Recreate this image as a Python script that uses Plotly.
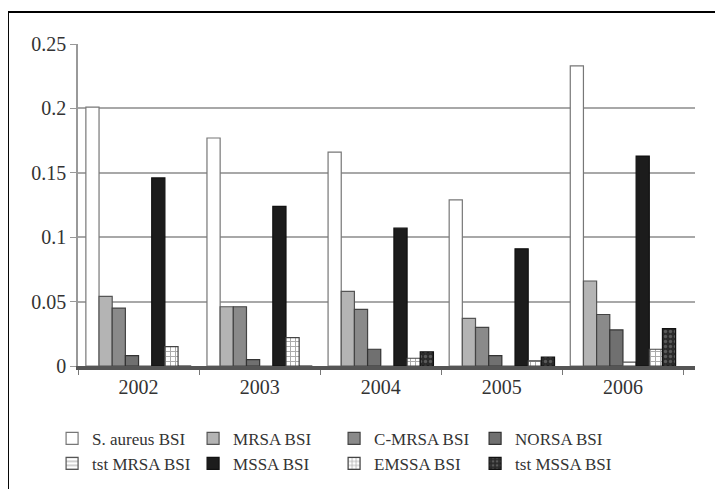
import plotly.graph_objects as go

years = ["2002", "2003", "2004", "2005", "2006"]
s_aureus = [0.201, 0.177, 0.166, 0.129, 0.233]
mrsa = [0.054, 0.046, 0.058, 0.037, 0.066]
c_mrsa = [0.045, 0.046, 0.044, 0.030, 0.040]
norsa = [0.008, 0.005, 0.013, 0.008, 0.028]
tst_mrsa = [0.0, 0.0, 0.0, 0.0, 0.003]
mssa = [0.146, 0.124, 0.107, 0.091, 0.163]
emssa = [0.015, 0.022, 0.006, 0.004, 0.013]
tst_mssa = [0.0, 0.0, 0.011, 0.007, 0.029]
y_ticks = [0, 0.05, 0.1, 0.15, 0.2, 0.25]
y_tick_labels = ["0", "0.05", "0.1", "0.15", "0.2", "0.25"]

series = [
    ("S. aureus BSI", s_aureus, "#ffffff", "#777777", "", None),
    ("MRSA BSI", mrsa, "#b4b4b4", "#555555", "", None),
    ("C-MRSA BSI", c_mrsa, "#8a8a8a", "#444444", "", None),
    ("NORSA BSI", norsa, "#707070", "#333333", "", None),
    ("tst MRSA BSI", tst_mrsa, "#ffffff", "#555555", "-", "#777777"),
    ("MSSA BSI", mssa, "#1c1c1c", "#111111", "", None),
    ("EMSSA BSI", emssa, "#ffffff", "#444444", "+", "#555555"),
    ("tst MSSA BSI", tst_mssa, "#2a2a2a", "#111111", ".", "#8a8a8a"),
]

fig = go.Figure()
for name, vals, fill, line, shape, fg in series:
    marker = dict(color=fill, line=dict(color=line, width=1.2))
    if shape:
        marker["pattern"] = dict(shape=shape, fgcolor=fg, bgcolor=fill, size=5, solidity=0.35)
    fig.add_trace(go.Bar(name=name, x=years, y=vals, marker=marker))

font_serif = "Liberation Serif, Times New Roman, serif"

fig.update_layout(
    width=723, height=489,
    margin=dict(l=70, r=36, t=36, b=131, autoexpand=False),
    paper_bgcolor="white", plot_bgcolor="white",
    barmode="group", bargap=0.13, bargroupgap=0.0,
    font=dict(family=font_serif, size=19, color="#333333"),
    showlegend=True,
    legend=dict(orientation="h", x=-0.042, xanchor="left", y=-0.17, yanchor="top",
                entrywidth=96, entrywidthmode="pixels", bgcolor="rgba(0,0,0,0)",
                font=dict(family=font_serif, size=17, color="#333333"),
                tracegroupgap=0, itemwidth=30),
    xaxis=dict(type="category", range=[-0.5, 4.595], showgrid=False,
               showline=True, linecolor="#555555", linewidth=4,
               ticks="outside", tickson="boundaries", ticklen=5, tickcolor="#777777",
               tickfont=dict(family=font_serif, size=20, color="#333333")),
    yaxis=dict(range=[0, 0.25], tickvals=y_ticks, ticktext=y_tick_labels,
               showgrid=True, gridcolor="#a8a8a8", gridwidth=1.5,
               showline=True, linecolor="#999999", linewidth=1.5,
               ticks="outside", ticklen=6, tickcolor="#999999",
               tickfont=dict(family=font_serif, size=20, color="#333333"),
               zeroline=False),
)

fig.add_shape(type="rect", xref="paper", yref="paper",
              x0=-0.1135, x1=1.08, y0=-0.7, y1=1.099,
              line=dict(color="black", width=2), fillcolor="rgba(0,0,0,0)", layer="above")

fig.write_html("out.html")
